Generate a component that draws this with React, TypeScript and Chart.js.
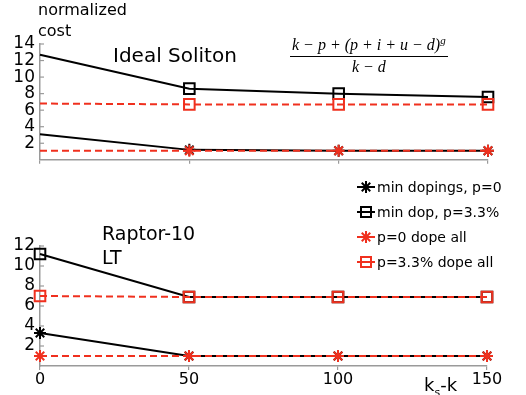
import React, { useEffect, useRef } from 'react';
import { Chart, registerables } from 'chart.js';

Chart.register(...registerables);

// ---------- data ----------
const kSteps = [0, 50, 100, 150];
const seriesLabels = ['min dopings, p=0', 'min dop, p=3.3%', 'p=0 dope all', 'p=3.3% dope all'];

// Ideal Soliton panel
const idealMinDopP0 = [3.1, 1.2, 1.1, 1.1];
const idealMinDopP33 = [12.7, 8.6, 8.0, 7.6];
const idealDopeAllP0 = [1.1, 1.1, 1.1, 1.1];
const idealDopeAllP33 = [6.8, 6.7, 6.7, 6.7];

// Raptor-10 LT panel
const raptorMinDopP0 = [3.3, 1.0, 1.0, 1.0];
const raptorMinDopP33 = [11.2, 6.9, 6.9, 6.9];
const raptorDopeAllP0 = [1.0, 1.0, 1.0, 1.0];
const raptorDopeAllP33 = [7.0, 6.9, 6.9, 6.9];

const topYMax = 14;
const bottomYMax = 12;
const yStep = 2;
const xStep = 50;

// ---------- styles ----------
const BLACK = '#000000';
const RED = '#f0301e';
const GREY = '#9a9a9a';
const FONT = '"DejaVu Sans", sans-serif';

const seriesStyles = [
  { color: BLACK, pointStyle: 'star', dash: [] as number[], order: 2, radius: 6 },
  { color: BLACK, pointStyle: 'rect', dash: [] as number[], order: 2, radius: 7.5 },
  { color: RED, pointStyle: 'star', dash: [7, 4], order: 1, radius: 6 },
  { color: RED, pointStyle: 'rect', dash: [7, 4], order: 1, radius: 7.5 },
];

function makeDatasets(vals: number[][], hideFirst: boolean) {
  return vals.map((v, i) => {
    const s = seriesStyles[i];
    return {
      label: seriesLabels[i],
      data: kSteps.map((x, j) => ({ x, y: v[j] })),
      borderColor: s.color,
      backgroundColor: 'transparent',
      pointBorderColor: s.color,
      pointBackgroundColor: 'transparent',
      pointStyle: s.pointStyle,
      pointRadius: hideFirst ? kSteps.map((_, j) => (j === 0 ? 0 : s.radius)) : s.radius,
      pointBorderWidth: 2,
      borderWidth: 2,
      borderDash: s.dash,
      order: s.order,
      tension: 0,
      clip: false,
    };
  });
}

const yTickPlugin = {
  id: 'yInwardTicks',
  afterDraw(chart: any) {
    const ctx = chart.ctx;
    const y = chart.scales.y;
    const left = chart.chartArea.left;
    ctx.save();
    ctx.strokeStyle = GREY;
    ctx.lineWidth = 1.2;
    y.ticks.forEach((t: any) => {
      if (t.value === 0) return;
      const py = y.getPixelForValue(t.value);
      ctx.beginPath();
      ctx.moveTo(left, py);
      ctx.lineTo(left + 4, py);
      ctx.stroke();
    });
    ctx.restore();
  },
};

const legendPlugin = {
  id: 'customLegend',
  afterDraw(chart: any) {
    const ctx = chart.ctx;
    ctx.save();
    seriesLabels.forEach((label, i) => {
      const s = seriesStyles[i];
      const y = 12 + i * 25;
      const cx = 366;
      ctx.setLineDash([]);
      ctx.strokeStyle = s.color;
      ctx.lineWidth = 2;
      ctx.beginPath();
      ctx.moveTo(cx - 9, y);
      ctx.lineTo(cx + 9, y);
      ctx.stroke();
      if (s.pointStyle === 'star') {
        const r = 6;
        ctx.beginPath();
        for (let a = 0; a < 4; a++) {
          const ang = (a * Math.PI) / 4;
          ctx.moveTo(cx - r * Math.cos(ang), y - r * Math.sin(ang));
          ctx.lineTo(cx + r * Math.cos(ang), y + r * Math.sin(ang));
        }
        ctx.stroke();
      } else {
        ctx.strokeRect(cx - 5, y - 5, 10, 10);
      }
      ctx.fillStyle = '#000';
      ctx.font = '14px ' + FONT;
      ctx.textBaseline = 'middle';
      ctx.textAlign = 'left';
      ctx.fillText(label, 377, y + 1);
    });
    ctx.restore();
  },
};

function makeOptions(yMax: number, padTop: number, padRight: number, xHeight: number, showXLabels: boolean) {
  return {
    animation: false,
    responsive: false,
    maintainAspectRatio: false,
    layout: { padding: { left: 0, top: padTop, right: padRight, bottom: 0 } },
    plugins: {
      legend: { display: false },
      tooltip: { enabled: false },
      title: { display: false },
    },
    scales: {
      x: {
        type: 'linear',
        min: kSteps[0],
        max: kSteps[kSteps.length - 1],
        ticks: {
          stepSize: xStep,
          display: showXLabels,
          color: '#000',
          font: { family: FONT, size: 16 },
          padding: 0,
          maxRotation: 0,
        },
        grid: { drawOnChartArea: false, drawTicks: true, tickLength: 4, color: GREY, lineWidth: 1.2 },
        border: { color: GREY, width: 1.5 },
        afterFit: (s: any) => {
          s.height = xHeight;
        },
      },
      y: {
        min: 0,
        max: yMax,
        ticks: {
          stepSize: yStep,
          autoSkip: false,
          color: '#000',
          font: { family: FONT, size: 17 },
          padding: 5,
          callback: (v: any) => (v === 0 ? '' : String(v)),
        },
        grid: { display: false, drawTicks: false },
        border: { color: GREY, width: 1.5 },
        afterFit: (s: any) => {
          s.width = 40;
        },
      },
    },
  };
}

export default function App() {
  const topRef = useRef<HTMLCanvasElement>(null);
  const bottomRef = useRef<HTMLCanvasElement>(null);

  useEffect(() => {
    const top = new Chart(topRef.current as HTMLCanvasElement, {
      type: 'line',
      data: {
        datasets: makeDatasets([idealMinDopP0, idealMinDopP33, idealDopeAllP0, idealDopeAllP33], true) as any,
      },
      options: makeOptions(topYMax, 44, 38, 10, false) as any,
      plugins: [yTickPlugin],
    });
    const bottom = new Chart(bottomRef.current as HTMLCanvasElement, {
      type: 'line',
      data: {
        datasets: makeDatasets([raptorMinDopP0, raptorMinDopP33, raptorDopeAllP0, raptorDopeAllP33], false) as any,
      },
      options: makeOptions(bottomYMax, 71, 39, 29, true) as any,
      plugins: [yTickPlugin, legendPlugin],
    });
    return () => {
      top.destroy();
      bottom.destroy();
    };
  }, []);

  const abs = (l: number, t: number, extra: any = {}) => ({
    position: 'absolute' as const,
    left: l,
    top: t,
    whiteSpace: 'nowrap' as const,
    fontFamily: FONT,
    color: '#000',
    ...extra,
  });

  return (
    <div style={{ position: 'absolute', left: 0, top: 0, width: 526, height: 395, background: '#fff', overflow: 'hidden' }}>
      <canvas ref={topRef} width={526} height={175} style={{ position: 'absolute', left: 0, top: 0, width: 526, height: 175 }} />
      <canvas ref={bottomRef} width={526} height={220} style={{ position: 'absolute', left: 0, top: 175, width: 526, height: 220 }} />
      <div style={abs(38, -1, { fontSize: 16, lineHeight: '21px' })}>
        normalized
        <br />
        cost
      </div>
      <div style={abs(113, 45, { fontSize: 20, lineHeight: '20px' })}>Ideal Soliton</div>
      <div style={abs(102, 221, { fontSize: 19, lineHeight: '24px' })}>
        Raptor-10
        <br />
        LT
      </div>
      <div
        style={abs(290, 36, {
          fontFamily: '"Liberation Serif", serif',
          fontStyle: 'italic',
          fontSize: 16,
          display: 'flex',
          flexDirection: 'column',
          alignItems: 'center',
          lineHeight: '18px',
        })}
      >
        <div style={{ borderBottom: '1px solid #000', padding: '0 2px 2px 2px' }}>
          k − p + (p + i + u − d)<sup style={{ fontSize: 11, verticalAlign: '6px', lineHeight: 0 }}>g</sup>
        </div>
        <div style={{ paddingTop: 1 }}>k − d</div>
      </div>
      <div style={abs(424, 374, { fontSize: 18, lineHeight: '22px' })}>
        k<sub style={{ fontSize: 11, lineHeight: 0 }}>s</sub>-k
      </div>
    </div>
  );
}
